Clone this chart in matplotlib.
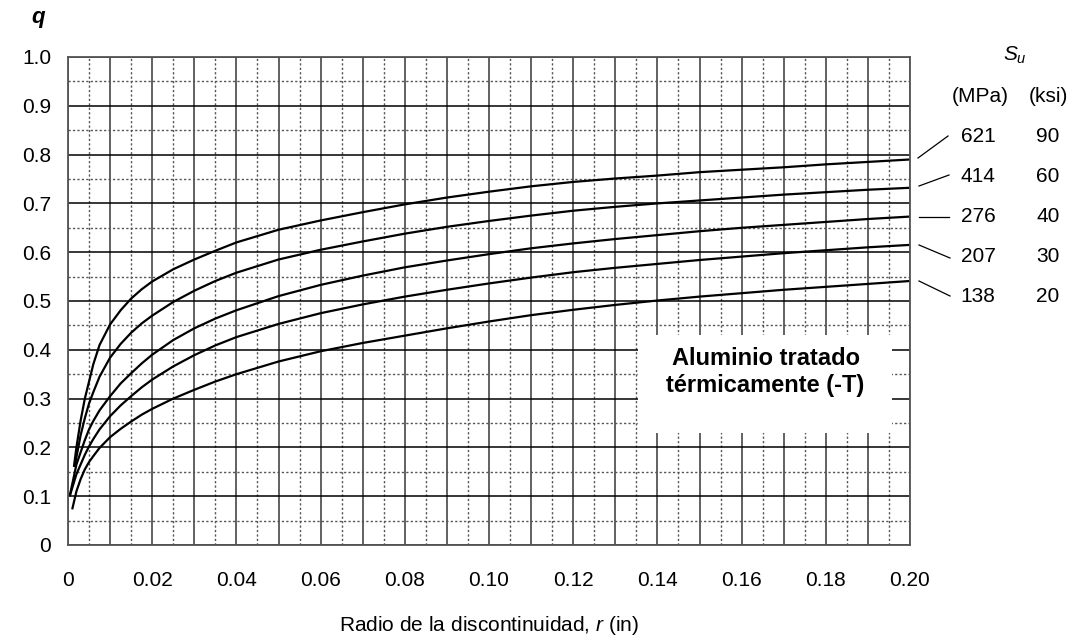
import matplotlib
matplotlib.use("Agg")
import matplotlib.pyplot as plt
from matplotlib.patches import Rectangle
from matplotlib.lines import Line2D

plt.rcParams['font.family'] = ['Liberation Sans', 'DejaVu Sans']
plt.rcParams['mathtext.fontset'] = 'custom'
plt.rcParams['mathtext.it'] = 'Liberation Sans:italic'
plt.rcParams['mathtext.rm'] = 'Liberation Sans'

# radius (in) read points shared by all curves
r_in = [0.002, 0.003, 0.004, 0.005, 0.006, 0.0075, 0.01, 0.0125, 0.015, 0.0175,
        0.02, 0.025, 0.03, 0.035, 0.04, 0.05, 0.06, 0.07, 0.08, 0.09,
        0.10, 0.11, 0.12, 0.13, 0.14, 0.15, 0.16, 0.17, 0.18, 0.19, 0.20]

# Su labels
su_mpa = ["621", "414", "276", "207", "138"]
su_ksi = ["90", "60", "40", "30", "20"]

# starting point of each curve
r_start = [0.0014, 0.0016, 0.0004, 0.0004, 0.0010]
q_start = [0.16, 0.16, 0.10, 0.10, 0.073]

q_621 = [0.200, 0.255, 0.300, 0.335, 0.370, 0.410, 0.452, 0.481, 0.505, 0.524,
         0.540, 0.565, 0.585, 0.603, 0.620, 0.646, 0.665, 0.682, 0.698, 0.712,
         0.724, 0.735, 0.744, 0.751, 0.757, 0.764, 0.769, 0.774, 0.780, 0.785, 0.790]
q_414 = [0.180, 0.225, 0.260, 0.290, 0.313, 0.345, 0.384, 0.412, 0.435, 0.454,
         0.470, 0.498, 0.521, 0.541, 0.558, 0.585, 0.605, 0.622, 0.638, 0.652,
         0.664, 0.675, 0.685, 0.693, 0.700, 0.706, 0.712, 0.718, 0.723, 0.728, 0.732]
q_276 = [0.165, 0.190, 0.215, 0.237, 0.254, 0.276, 0.305, 0.331, 0.352, 0.372,
         0.390, 0.420, 0.444, 0.464, 0.481, 0.510, 0.533, 0.552, 0.569, 0.583,
         0.596, 0.608, 0.618, 0.627, 0.635, 0.643, 0.650, 0.656, 0.662, 0.668, 0.673]
q_207 = [0.145, 0.165, 0.185, 0.202, 0.217, 0.237, 0.264, 0.286, 0.305, 0.323,
         0.339, 0.366, 0.389, 0.409, 0.426, 0.453, 0.475, 0.493, 0.509, 0.523,
         0.536, 0.548, 0.559, 0.568, 0.576, 0.584, 0.591, 0.598, 0.604, 0.610, 0.615]
q_138 = [0.110, 0.135, 0.155, 0.170, 0.182, 0.199, 0.221, 0.238, 0.253, 0.267,
         0.279, 0.300, 0.318, 0.335, 0.350, 0.376, 0.397, 0.414, 0.429, 0.444,
         0.458, 0.471, 0.482, 0.492, 0.501, 0.509, 0.516, 0.523, 0.529, 0.535, 0.541]

curves = [q_621, q_414, q_276, q_207, q_138]

x_ticks = [i * 0.01 for i in range(21)]
x_labels = ["0" if i == 0 else (f"{i*0.01:.2f}" if i % 2 == 0 else "") for i in range(21)]
y_ticks = [i * 0.1 for i in range(11)]
y_labels = ["0"] + [f"{v:.1f}" for v in y_ticks[1:]]

W, H = 1088, 642
fig = plt.figure(figsize=(W / 100, H / 100), dpi=100)
ax = fig.add_axes([68 / W, 1 - 545 / H, 842 / W, 488 / H])

ax.set_xlim(0, 0.20)
ax.set_ylim(0, 1.0)
ax.set_xticks(x_ticks)
ax.set_xticklabels(x_labels)
ax.set_xticks([0.005 + i * 0.01 for i in range(20)], minor=True)
ax.set_yticks(y_ticks)
ax.set_yticklabels(y_labels)
ax.set_yticks([0.05 + i * 0.1 for i in range(10)], minor=True)
ax.tick_params(which='both', length=0)
ax.tick_params(axis='x', pad=19, labelsize=15)
ax.tick_params(axis='y', pad=12, labelsize=15)

ax.set_axisbelow(True)
ax.grid(True, axis='x', which='major', color='#555555', lw=1.3, ls='-')
ax.grid(True, axis='y', which='major', color='black', lw=1.1, ls='-')
ax.grid(True, which='minor', color='#555555', lw=1.0, ls=(0, (1.6, 1.6)))
for s in ax.spines.values():
    s.set_color('#555555')
    s.set_linewidth(1.3)

# white label box over the grid
ax.add_patch(Rectangle((0.1354, 0.2295), 0.0603, 0.2005, facecolor='white',
                       edgecolor='none', zorder=1.5))
ax.text(0.1657, 0.354, "Aluminio tratado\ntérmicamente (-T)", ha='center',
        va='center', fontsize=17, fontweight='bold', linespacing=1.2, zorder=3)

for rs, qs, q in zip(r_start, q_start, curves):
    ax.plot([rs] + r_in, [qs] + q, color='black', lw=1.6, zorder=2,
            solid_capstyle='butt', solid_joinstyle='round')

ax.set_xlabel(r"Radio de la discontinuidad, $r$ (in)", fontsize=15, labelpad=17)

fig.text(38 / W, 1 - 18 / H, "q", fontsize=16, fontweight='bold', style='italic',
         ha='center', va='center')

# Su labels on the right
fig.text(1015 / W, 1 - 55 / H, r"$S_u$", fontsize=15, ha='center', va='center')
fig.text(980 / W, 1 - 97 / H, "(MPa)", fontsize=15, ha='center', va='center')
fig.text(1048 / W, 1 - 97 / H, "(ksi)", fontsize=15, ha='center', va='center')
row_y = [137, 177, 217, 257, 297]
leaders = [((918, 158), (948, 136)), ((919, 186), (949, 175)),
           ((919, 217), (949, 217)), ((919, 245), (950, 258)),
           ((919, 281), (950, 296))]
for ym, mpa, ksi, (p0, p1) in zip(row_y, su_mpa, su_ksi, leaders):
    fig.text(978 / W, 1 - ym / H, mpa, fontsize=15, ha='center', va='center')
    fig.text(1048 / W, 1 - ym / H, ksi, fontsize=15, ha='center', va='center')
    fig.add_artist(Line2D([p0[0] / W, p1[0] / W], [1 - p0[1] / H, 1 - p1[1] / H],
                          transform=fig.transFigure, color='black', lw=0.9))

fig.savefig("out.png", dpi=100)
